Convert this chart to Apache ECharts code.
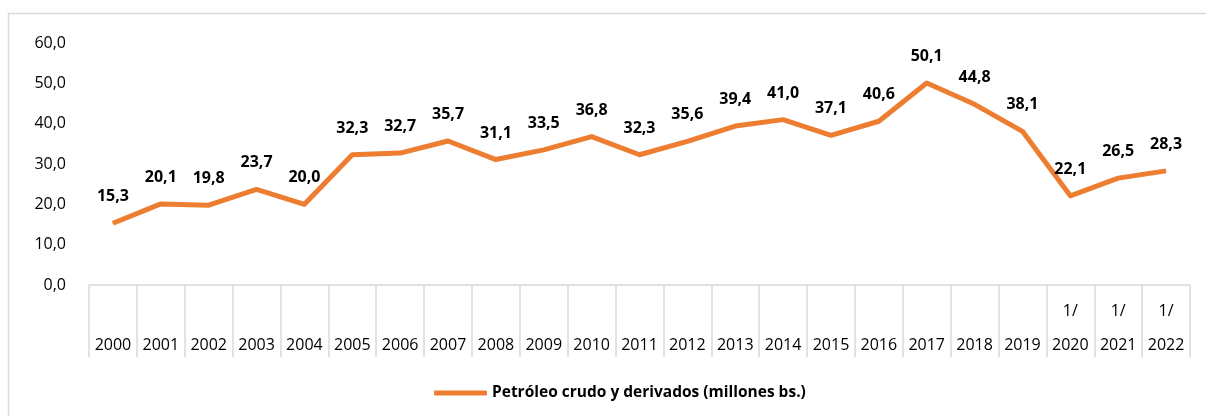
<!DOCTYPE html>
<html>
<head>
<meta charset="utf-8">
<script src="https://cdn.jsdelivr.net/npm/echarts@6/dist/echarts.min.js"></script>
<style>
html,body{margin:0;padding:0;background:#fff;}
#c{width:1206px;height:416px;}
</style>
</head>
<body>
<div id="c"></div>
<script>
const years = ['2000','2001','2002','2003','2004','2005','2006','2007','2008','2009','2010','2011','2012','2013','2014','2015','2016','2017','2018','2019','2020','2021','2022'];
const notedYears = ['2020','2021','2022'];
const values = [15.3,20.1,19.8,23.7,20.0,32.3,32.7,35.7,31.1,33.5,36.8,32.3,35.6,39.4,41.0,37.1,40.6,50.1,44.8,38.1,22.1,26.5,28.3];
const seriesName = 'Petróleo crudo y derivados (millones bs.)';
const yTicks = [0,10,20,30,40,50,60];

const font = '"Open Sans", "Liberation Sans", sans-serif';
const chart = echarts.init(document.getElementById('c'), null, {renderer:'canvas'});
chart.setOption({
  animation:false,
  backgroundColor:'#fff',
  graphic:[{
    type:'rect', shape:{x:8.5,y:13.5,width:1220,height:430},
    style:{fill:'none',stroke:'#d9d9d9',lineWidth:1.5}, silent:true, z:-1
  }],
  grid:{left:89,right:16,top:43,bottom:131,containLabel:false},
  legend:{
    top:380, left:429, itemWidth:53, itemHeight:5, itemGap:6,
    icon:'roundRect',
    textStyle:{fontFamily:font,fontSize:15.5,fontWeight:'bold',color:'#000'},
    data:[{name:seriesName}]
  },
  xAxis:{
    type:'category', data:years, boundaryGap:true,
    axisLine:{show:true,lineStyle:{color:'#d9d9d9',width:1.5}},
    axisTick:{show:true,length:72,interval:0,lineStyle:{color:'#d9d9d9',width:1.5}},
    axisLabel:{
      interval:0, margin:77, fontFamily:font, fontSize:16, color:'#000', lineHeight:34,
      verticalAlign:'bottom',
      formatter:function(v){return notedYears.indexOf(v)>=0 ? '1/\n'+v : v;}
    }
  },
  yAxis:{
    type:'value', min:yTicks[0], max:yTicks[yTicks.length-1], interval:10,
    axisLine:{show:false}, axisTick:{show:false}, splitLine:{show:false},
    axisLabel:{margin:23, fontFamily:font, fontSize:16, color:'#000',
      formatter:function(v){return v.toFixed(1).replace('.',',');}}
  },
  series:[{
    name:seriesName, type:'line', data:values,
    symbol:'circle', symbolSize:1, showSymbol:true,
    lineStyle:{color:'#ED7D31',width:5,join:'round'},
    itemStyle:{color:'#ED7D31'},
    label:{show:true,position:'top',distance:18,fontFamily:font,fontSize:16,fontWeight:'bold',color:'#000',
      formatter:function(p){return p.value.toFixed(1).replace('.',',');}}
  }]
});
</script>
</body>
</html>
